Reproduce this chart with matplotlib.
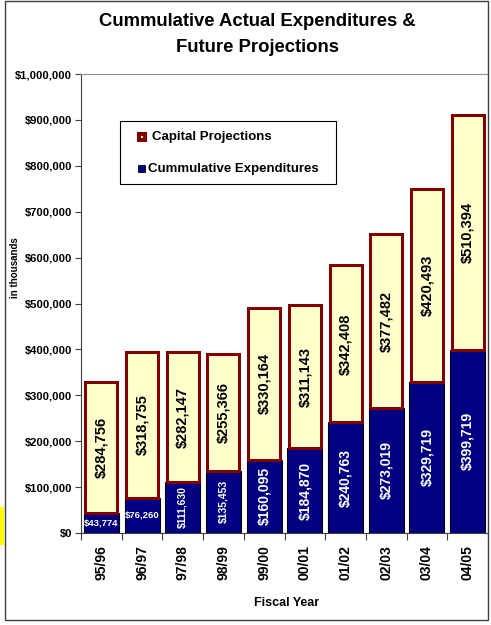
import matplotlib
matplotlib.use("Agg")
import matplotlib.pyplot as plt
from matplotlib.patches import Rectangle
from matplotlib.ticker import FuncFormatter, MultipleLocator, FixedLocator

plt.rcParams['font.family'] = ['Liberation Sans', 'DejaVu Sans']
plt.rcParams['font.weight'] = 'bold'

years = ['95/96', '96/97', '97/98', '98/99', '99/00',
         '00/01', '01/02', '02/03', '03/04', '04/05']
expenditures = [43774, 76260, 111630, 135453, 160095,
                184870, 240763, 273019, 329719, 399719]
projections = [284756, 318755, 282147, 255366, 330164,
               311143, 342408, 377482, 420493, 510394]
legend_labels = ['Capital Projections', 'Cummulative Expenditures']

NAVY = '#000080'
CREAM = '#FFFFCC'
MAROON = '#800000'

W, H = 491, 625
fig = plt.figure(figsize=(W / 100, H / 100), dpi=100)


def fx(px):
    return px / W


def fy(py):
    return 1 - py / H


# outer chart frame and the small yellow tab on the left edge
fig.patches.append(Rectangle((fx(5), fy(620)), 483 / W, 619 / H,
                             transform=fig.transFigure, fill=False,
                             edgecolor='#404040', linewidth=1.0))
fig.patches.append(Rectangle((0, fy(545)), 4 / W, 38 / H,
                             transform=fig.transFigure, facecolor='#FFFF00',
                             edgecolor='none'))

ax = fig.add_axes([fx(81), fy(533), (488 - 81) / W, (533 - 74) / H])

x = list(range(len(years)))
px = (488 - 81) / len(years)          # pixels per category
bw = 0.86
lw_px = 3.0
ax.bar(x, expenditures, width=bw, color=NAVY, edgecolor='black',
       linewidth=0.8, zorder=2)
ax.bar(x, projections, width=bw - lw_px / px, bottom=expenditures,
       color=CREAM, edgecolor=MAROON, linewidth=lw_px * 0.72, zorder=3)

for i, (e, p) in enumerate(zip(expenditures, projections)):
    ax.text(i, e + p / 2, f'${p:,}', rotation=90, ha='center', va='center',
            fontsize=10.5, fontweight='bold', color='black', zorder=4)
    if e < 100000:
        ax.text(i, e / 2, f'${e:,}', ha='center', va='center',
                fontsize=6.8, fontweight='bold', color='white', zorder=4)
    elif e < 150000:
        ax.text(i, e / 2, f'${e:,}', rotation=90, ha='center', va='center',
                fontsize=7.5, fontweight='bold', color='white', zorder=4)
    else:
        ax.text(i, e / 2, f'${e:,}', rotation=90, ha='center', va='center',
                fontsize=10, fontweight='bold', color='white', zorder=4)

ax.set_xlim(-0.5, len(years) - 0.5)
ax.set_ylim(0, 1000000)
ax.yaxis.set_major_locator(MultipleLocator(100000))
ax.yaxis.set_major_formatter(FuncFormatter(lambda v, _: f'${v:,.0f}'))
ax.tick_params(axis='y', labelsize=8.1, length=4, width=0.8, pad=2.5,
               color='#404040')

ax.set_xticks(x)
ax.set_xticklabels(years, rotation=90, fontsize=10, fontweight='bold',
                   va='top')
ax.tick_params(axis='x', which='major', length=0, pad=9)
ax.xaxis.set_minor_locator(FixedLocator([i + 0.5 for i in range(-1, len(years))]))
ax.tick_params(axis='x', which='minor', length=5, width=0.8, color='#404040')

for lab in ax.get_yticklabels():
    lab.set_fontweight('bold')

ax.spines['right'].set_visible(False)
ax.spines['top'].set_color('#909090')
ax.spines['top'].set_linewidth(0.8)
ax.spines['left'].set_color('#404040')
ax.spines['bottom'].set_color('#404040')

fig.text(fx(15), fy(268), 'in thousands', rotation=90, ha='center',
         va='center', fontsize=7, fontweight='bold')
fig.text(fx(287), fy(603), 'Fiscal Year', ha='center', va='center',
         fontsize=9, fontweight='bold')
fig.text(fx(257), fy(22), 'Cummulative Actual Expenditures &',
         ha='center', va='center', fontsize=13.3, fontweight='bold')
fig.text(fx(257), fy(47), 'Future Projections',
         ha='center', va='center', fontsize=13.3, fontweight='bold')

# legend box
fig.patches.append(Rectangle((fx(120), fy(184)), 216 / W, 63 / H,
                             transform=fig.transFigure, facecolor='white',
                             edgecolor='black', linewidth=0.8, zorder=5))
fig.patches.append(Rectangle((fx(138.5), fy(140)), 6 / W, 6 / H,
                             transform=fig.transFigure, facecolor=CREAM,
                             edgecolor=MAROON, linewidth=2.9, zorder=6))
fig.patches.append(Rectangle((fx(138), fy(172)), 7 / W, 7 / H,
                             transform=fig.transFigure, facecolor=NAVY,
                             edgecolor='black', linewidth=0.6, zorder=6))
fig.text(fx(152), fy(137), legend_labels[0], ha='left', va='center',
         fontsize=9.5, fontweight='bold', zorder=7)
fig.text(fx(148), fy(168.5), legend_labels[1], ha='left', va='center',
         fontsize=9.5, fontweight='bold', zorder=7)

fig.savefig('out.png', dpi=100)
